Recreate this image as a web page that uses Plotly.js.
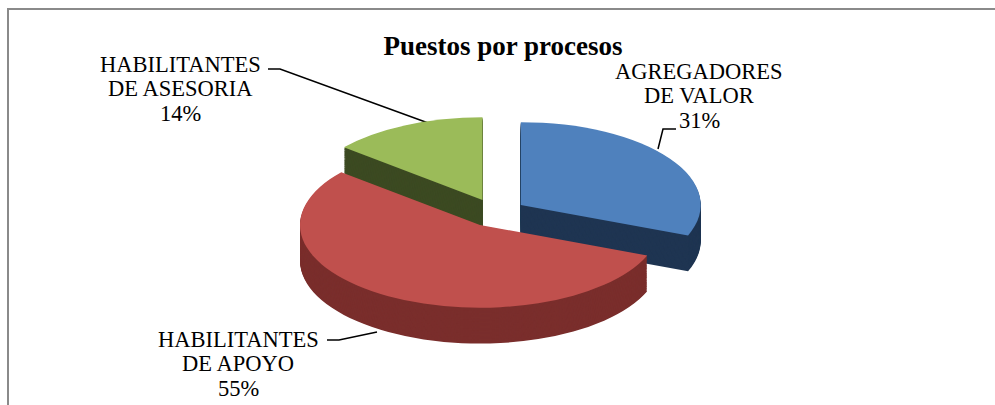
<!DOCTYPE html>
<html><head><meta charset="utf-8">
<script src="https://cdn.plot.ly/plotly-3.0.1.min.js"></script>
<style>
html,body{margin:0;padding:0;background:#fff;overflow:hidden;}
#wrap{position:relative;width:995px;height:405px;overflow:hidden;}
#labels{position:absolute;left:0;top:0;width:995px;height:405px;}
#frame{position:absolute;left:7px;top:8px;width:990px;height:400px;border-top:2px solid #8a8a8a;border-left:2px solid #8a8a8a;pointer-events:none;}
#pie{position:absolute;left:285px;top:116px;width:421px;height:499px;transform:scaleY(0.46);transform-origin:0 0;}
</style></head>
<body>
<div id="wrap"><div id="labels"></div><div id="frame"></div><div id="pie"></div></div>
<script>
// ---- data ----
const categories = ['AGREGADORES DE VALOR', 'HABILITANTES DE APOYO', 'HABILITANTES DE ASESORIA'];
const labelLines = [['AGREGADORES', 'DE VALOR'], ['HABILITANTES', 'DE APOYO'], ['HABILITANTES', 'DE ASESORIA']];
const values = [31, 55, 14];
const topColors = ['#4F81BD', '#C0504D', '#9BBB59'];
const sideColors = ['#1F3552', '#7A2E2C', '#3C4A22'];
const pulls = [0.17, 0.17, 0.17];
const chartTitle = 'Puestos por procesos';

// ---- label layer ----
const total = values.reduce((a, b) => a + b, 0);
const pct = values.map(v => Math.round(100 * v / total));
const labelX = [699, 238, 180];
const labelTopY = [71, 339, 64];
const linePitch = 24.5;
const leaderPaths = ['M 676 129 L 663 129 L 658 149', 'M 327 340 L 339 340 L 377 332', 'M 268 69 L 280 69 L 431 124'];
const font = "'Liberation Serif', 'Times New Roman', serif";

const annotations = [];
categories.forEach((c, i) => {
  const lines = labelLines[i].concat([pct[i] + '%']);
  lines.forEach((t, j) => {
    annotations.push({
      x: labelX[i], y: labelTopY[i] + j * linePitch, xref: 'x', yref: 'y',
      text: t, showarrow: false, xanchor: 'center', yanchor: 'middle', align: 'center',
      font: {family: font, size: 22.5, color: '#000'}
    });
  });
});
const shapes = leaderPaths.map(p => ({type: 'path', path: p, xref: 'x', yref: 'y', line: {color: '#000', width: 1.5}}));

Plotly.newPlot('labels', [], {
  width: 995, height: 405, margin: {l: 0, r: 0, t: 0, b: 0},
  paper_bgcolor: '#fff', plot_bgcolor: '#fff',
  xaxis: {range: [0, 995], visible: false, fixedrange: true},
  yaxis: {range: [405, 0], visible: false, fixedrange: true},
  title: {text: '<b>' + chartTitle + '</b>', font: {family: font, size: 27, color: '#000'},
          x: 503 / 995, xanchor: 'center', xref: 'container', y: 1 - 46 / 405, yanchor: 'middle', yref: 'container'},
  annotations: annotations, shapes: shapes, showlegend: false
}, {staticPlot: true});

// ---- pie layer (extruded by stacking copies, then squashed) ----
const W = 421, B = 421, D = 78, H = B + D;
const nLayers = 40;
const traces = [];
function pieTrace(colors, y0) {
  return {
    type: 'pie', labels: categories, values: values, sort: false, direction: 'clockwise', rotation: 0,
    pull: pulls, marker: {colors: colors, line: {width: 0}}, textinfo: 'none', hoverinfo: 'skip',
    showlegend: false, domain: {x: [0, 1], y: [y0, y0 + B / H]}
  };
}
for (let k = 0; k < nLayers; k++) {
  traces.push(pieTrace(sideColors, (D * k / nLayers) / H));
}
traces.push(pieTrace(topColors, D / H));
Plotly.newPlot('pie', traces, {
  width: W, height: H, margin: {l: 0, r: 0, t: 0, b: 0},
  paper_bgcolor: 'rgba(0,0,0,0)', plot_bgcolor: 'rgba(0,0,0,0)', showlegend: false
}, {staticPlot: true});
</script>
</body></html>
